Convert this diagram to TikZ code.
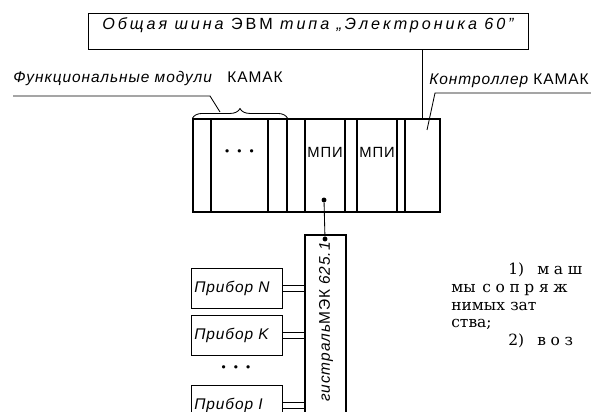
\documentclass[tikz,border=0pt]{standalone}
\usepackage{fontspec}
\setmainfont{DejaVu Serif}
\newfontfamily\gost[LetterSpace=6]{Liberation Sans}
\newfontfamily\gostwide[LetterSpace=18]{Liberation Sans}
\newfontfamily\bodyfont{DejaVu Serif}
\newfontfamily\bodywide[LetterSpace=30]{DejaVu Serif}
\usetikzlibrary{positioning,fit,decorations.pathreplacing}

\begin{document}
\begin{tikzpicture}[x=0.025cm, y=-0.025cm,
        slot/.style={rectangle, draw, inner sep=0pt, line width=0.9pt,
                     font=\gost\fontsize{10.5}{12}\selectfont},
        unit/.style={rectangle, draw, line width=0.7pt, anchor=north west,
                     inner xsep=2pt, inner ysep=0pt, text width=61pt,
                     minimum height=28.4pt, align=left,
                     font=\gost\itshape\fontsize{11}{12}\selectfont},
        lbl/.style={anchor=base west, inner sep=0pt,
                    font=\gost\fontsize{11}{12}\selectfont},
        txt/.style={anchor=base west, inner sep=0pt,
                    font=\bodyfont\fontsize{11}{14}\selectfont},
        wtxt/.style={txt, font=\bodywide\fontsize{11}{14}\selectfont},
        wire/.style={line width=0.6pt},
        pair/.style={double, double distance=3.5pt, line width=0.7pt},
        dot/.style={circle, fill, inner sep=0pt, minimum size=3.5pt}
      ]
        \useasboundingbox (0,0) rectangle (591,412);

        % common bus
        \node[draw, line width=0.6pt, inner sep=0pt, fit={(88,13) (528,49)},
              font=\gostwide\fontsize{11.5}{12}\selectfont] (bus)
              {\itshape Общая шина \upshape ЭВМ \itshape типа „Электроника 60”};

        % crate
        \node[slot, fit={(193,119) (211,212)}] (m1) {};
        \node[slot, fit={(211,119) (268,212)},
              label={[yshift=9pt, font=\fontsize{8}{8}\selectfont]center:\textbullet\hspace{4pt}\textbullet\hspace{4pt}\textbullet}] (m2) {};
        \node[slot, fit={(268,119) (287,212)}] (m3) {};
        \node[slot, fit={(287,119) (305,212)}] (m4) {};
        \node[slot, fit={(305,119) (345,212)},
              label={[yshift=9pt, font=\gost\fontsize{10.5}{12}\selectfont]center:МПИ}] (mpi1) {};
        \node[slot, fit={(345,119) (357,212)}] (m6) {};
        \node[slot, fit={(357,119) (397,212)},
              label={[yshift=9pt, font=\gost\fontsize{10.5}{12}\selectfont]center:МПИ}] (mpi2) {};
        \node[slot, fit={(397,119) (405,212)}] (m8) {};
        \node[slot, fit={(405,119) (440,212)}] (ctrl) {};

        \draw[wire] (ctrl.north |- bus.south) -- (ctrl.north);
        \draw[wire, decorate, decoration={brace, amplitude=7pt}]
              (m1.north west) -- (m3.north east);

        % labels
        \node[lbl] (fmlbl) at (13,83) {\itshape Функциональные модули\quad\upshape КАМАК};
        \coordinate (fmend) at (220,112);
        \draw[wire] (fmlbl.base west |- 0,96) -- (210,96) -- (fmend);

        \node[lbl, anchor=base east] (ctlbl) at (589,85) {\itshape Контроллер \upshape КАМАК};
        \coordinate (ctend) at (427,130);
        \draw[wire] (591,93) -- (435,93) -- (ctend);

        % highway
        \node[draw, line width=0.9pt, inner sep=0pt, fit={(305,235) (346,440)}] (mag) {};
        \node[rotate=90, anchor=east, inner sep=0pt,
              font=\gost\fontsize{11}{12}\selectfont] (maglbl) at (326,242)
              {\itshape гистраль\upshape МЭК \itshape 625.1};
        \node[dot] (tap)  at (324,200) {};
        \node[dot] (tap2) at (325,239) {};
        \draw[wire] (tap) -- (tap2);

        % devices
        \node[unit] (pn) at (191,268) {Прибор N};
        \node[unit] (pk) at (191,315) {Прибор K};
        \node[unit] (pi) at (191,385) {Прибор I};
        \node[font=\fontsize{8}{8}\selectfont] (vdots) at (236,369)
              {\textbullet\hspace{4pt}\textbullet\hspace{4pt}\textbullet};

        \draw[pair] (pn.east) -- (pn.east -| mag.west);
        \draw[pair] (pk.east) -- (pk.east -| mag.west);
        \draw[pair] (pi.east) -- (pi.east -| mag.west);

        % page text
        \node[txt]  (t1a) at (508,275) {1)};
        \node[wtxt] (t1b) at (537,275) {маш};
        \node[txt]  (t2a) at (451,292) {мы};
        \node[wtxt] (t2b) at (482,292) {сопряж};
        \node[txt]  (t3a) at (451,310) {нимых};
        \node[txt]  (t3b) at (510,310) {зат};
        \node[txt]  (t4)  at (451,327) {ства;};
        \node[txt]  (t5a) at (508,345) {2)};
        \node[wtxt] (t5b) at (537,345) {воз};
      \end{tikzpicture}
\end{document}
